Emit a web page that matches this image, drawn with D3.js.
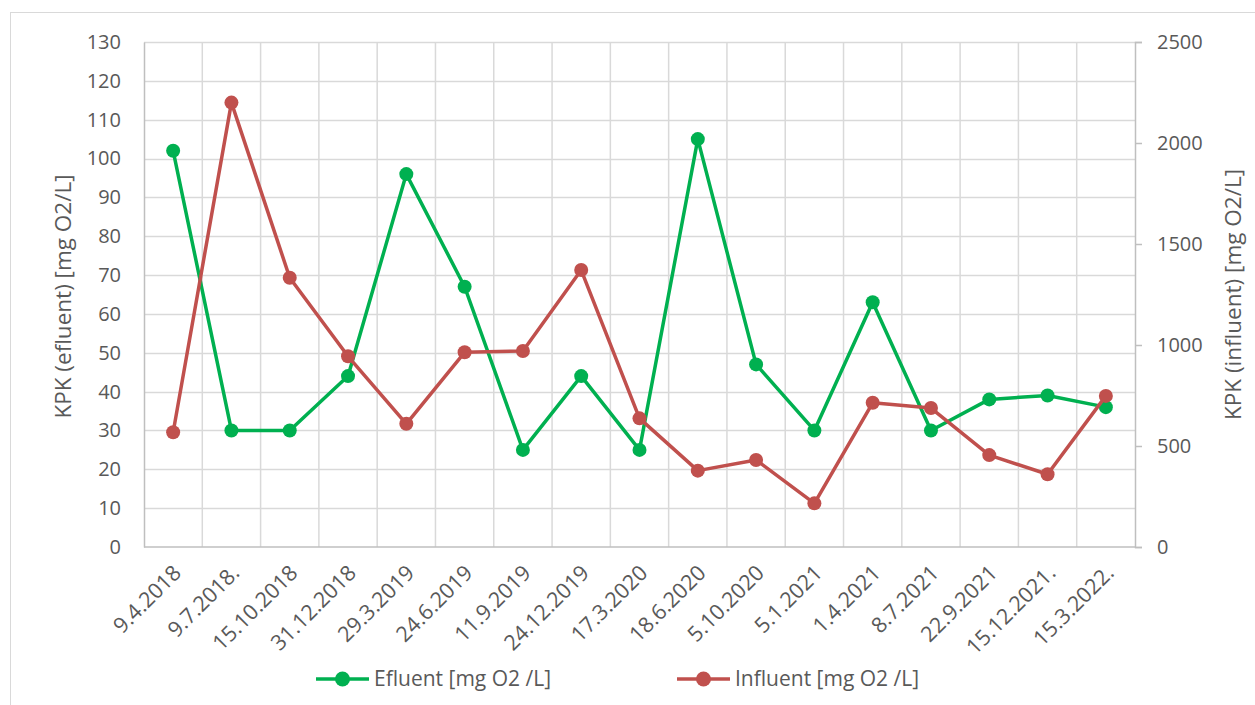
<!DOCTYPE html>
<html><head><meta charset="utf-8">
<script src="https://cdn.jsdelivr.net/npm/d3@7"></script>
<style>body{margin:0;background:#fff}svg{display:block}text{font-family:"Open Sans",sans-serif;fill:#595959}</style>
</head><body><svg id="c" width="1255" height="705"></svg>
<script>
const categories = ["9.4.2018","9.7.2018.","15.10.2018","31.12.2018","29.3.2019","24.6.2019","11.9.2019","24.12.2019","17.3.2020","18.6.2020","5.10.2020","5.1.2021","1.4.2021","8.7.2021","22.9.2021","15.12.2021.","15.3.2022."];
const efluent = [102,30,30,44,96,67,25,44,25,105,47,30,63,30,38,39,36];
const influent = [568,2200,1333,944,610,964,970,1371,637,378,431,216,714,688,455,360,748];
const leftTicks = d3.range(0,131,10);
const rightTicks = [0,500,1000,1500,2000,2500];
const seriesNames = ["Efluent [mg O2 /L]","Influent [mg O2 /L]"];
const colors = ["#00B050","#C0504D"];

const svg = d3.select("#c");
const L=144, R=1135, T=42, B=547;
svg.append("rect").attr("x",10.5).attr("y",12.5).attr("width",1400).attr("height",900).attr("fill","#fff").attr("stroke","#d9d9d9");

const x = d3.scaleBand().domain(categories).range([L,R]);
const yL = d3.scaleLinear().domain([0,130]).range([B,T]);
const yR = d3.scaleLinear().domain([0,2500]).range([B,T]);

// gridlines
const g = svg.append("g");
g.selectAll(".h").data(leftTicks.filter(d=>d>0)).join("line")
  .attr("x1",L).attr("x2",R).attr("y1",d=>Math.round(yL(d))+0.5).attr("y2",d=>Math.round(yL(d))+0.5)
  .attr("stroke","#d9d9d9").attr("stroke-width",1.5);
g.selectAll(".v").data(categories.slice(1)).join("line")
  .attr("x1",d=>x(d)).attr("x2",d=>x(d)).attr("y1",T).attr("y2",B)
  .attr("stroke","#d9d9d9").attr("stroke-width",1.5);

// left axis
const ax = d3.axisLeft(yL).tickValues(leftTicks).tickSize(0).tickPadding(23);
const ga = svg.append("g").attr("transform",`translate(${L},0)`).call(ax);
ga.select(".domain").attr("stroke","#bfbfbf").attr("stroke-width",1.5);
ga.selectAll("text").attr("font-size",20).attr("font-family","'Open Sans'").style("fill","#595959");

// right axis
const ar = d3.axisRight(yR).tickValues(rightTicks).tickFormat(d3.format("d")).tickSize(7).tickPadding(15);
const gr = svg.append("g").attr("transform",`translate(${R},0)`).call(ar);
gr.select(".domain").attr("stroke","#bfbfbf").attr("stroke-width",1.5);
gr.selectAll("line").attr("stroke","#bfbfbf").attr("stroke-width",1.5);
gr.selectAll("text").attr("font-size",20).attr("font-family","'Open Sans'").style("fill","#595959");

// bottom axis
svg.append("line").attr("x1",L).attr("x2",R).attr("y1",B).attr("y2",B).attr("stroke","#bfbfbf").attr("stroke-width",1.5);
svg.append("g").selectAll("text").data(categories).join("text")
  .attr("transform",d=>`translate(${x(d)+x.bandwidth()/2+4},${B+22}) rotate(-45)`)
  .attr("text-anchor","end").attr("dy","0.35em").attr("font-size",21.5).text(d=>d);

// axis titles
svg.append("text").attr("transform",`translate(71,${(T+B)/2+2}) rotate(-90)`).attr("text-anchor","middle").attr("font-size",22.5).text("KPK (efluent) [mg O2/L]");
svg.append("text").attr("transform",`translate(1241,${(T+B)/2}) rotate(-90)`).attr("text-anchor","middle").attr("font-size",22.5).text("KPK (influent) [mg O2/L]");

// series
const cx = d=>x(d)+x.bandwidth()/2;
[[efluent,yL],[influent,yR]].forEach(([vals,ys],i)=>{
  const line = d3.line().x((d,j)=>cx(categories[j])).y(d=>ys(d));
  svg.append("path").datum(vals).attr("d",line).attr("fill","none").attr("stroke",colors[i]).attr("stroke-width",3.5).attr("stroke-linejoin","round");
  svg.append("g").selectAll("circle").data(vals).join("circle")
    .attr("cx",(d,j)=>cx(categories[j])).attr("cy",d=>ys(d)).attr("r",7).attr("fill",colors[i]);
});

// legend
const lx=[316,677], ly=679;
seriesNames.forEach((n,i)=>{
  svg.append("line").attr("x1",lx[i]).attr("x2",lx[i]+53).attr("y1",ly).attr("y2",ly).attr("stroke",colors[i]).attr("stroke-width",3.5);
  svg.append("circle").attr("cx",lx[i]+26.5).attr("cy",ly).attr("r",7.5).attr("fill",colors[i]);
  svg.append("text").attr("x",lx[i]+58).attr("y",ly).attr("dy","0.35em").attr("font-size",21).text(n);
});
</script></body></html>
